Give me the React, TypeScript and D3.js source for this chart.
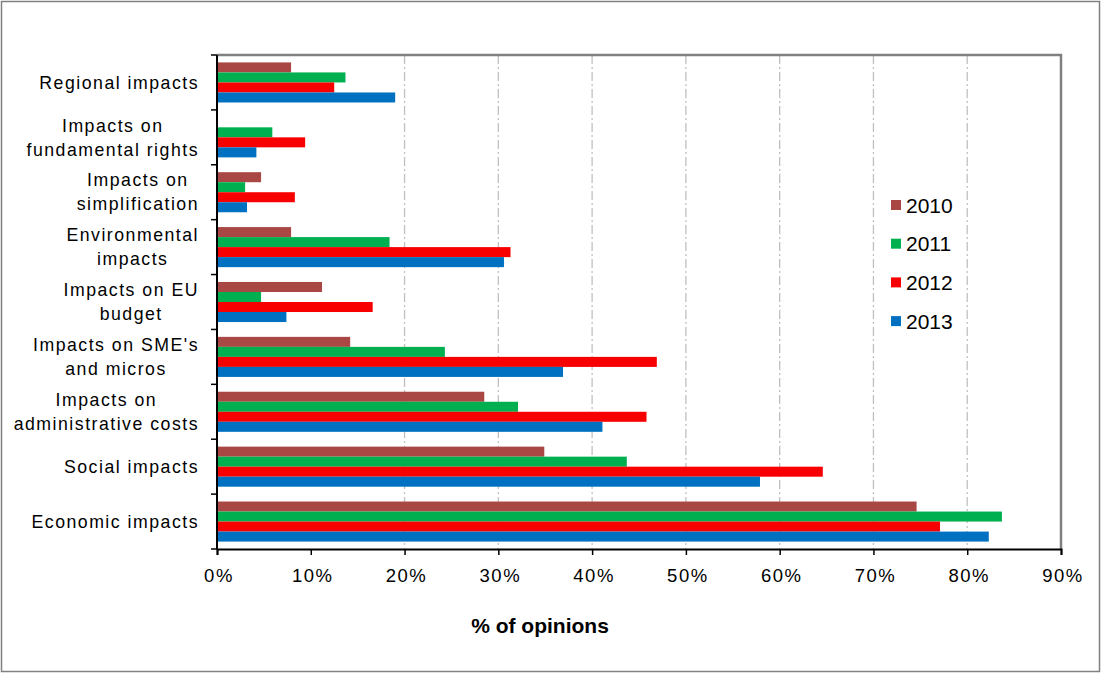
import React, { useEffect, useRef } from 'react'
import * as d3 from 'd3'

const categories = [
  'Regional impacts',
  'Impacts on\nfundamental rights',
  'Impacts on\nsimplification',
  'Environmental\nimpacts',
  'Impacts on EU\nbudget',
  "Impacts on SME's\nand micros",
  'Impacts on\nadministrative costs',
  'Social impacts',
  'Economic impacts',
]

const years = ['2010', '2011', '2012', '2013']

const values2010 = [7.9, 0, 4.7, 7.9, 11.2, 14.2, 28.5, 34.9, 74.6]
const values2011 = [13.7, 5.9, 3.0, 18.4, 4.7, 24.3, 32.1, 43.7, 83.7]
const values2012 = [12.5, 9.4, 8.3, 31.3, 16.6, 46.9, 45.8, 64.6, 77.1]
const values2013 = [19.0, 4.2, 3.2, 30.6, 7.4, 36.9, 41.1, 57.9, 82.3]

const xTicks = [0, 10, 20, 30, 40, 50, 60, 70, 80, 90]
const gridTicks = [20, 30, 40, 50, 60, 70, 80]

const colors = ['#A94744', '#00B050', '#F80000', '#0070C0']

const W = 1101
const H = 673

const App: React.FC = () => {
  const ref = useRef<SVGSVGElement>(null)

  useEffect(() => {
    renderChart()
  }, [])

  const renderChart = () => {
    const svg = d3.select(ref.current)
    svg.selectAll('*').remove()

    const left = 217
    const right = 1061
    const top = 55
    const bottom = 549
    const font = 'Liberation Sans, Arial, sans-serif'

    const series = [values2010, values2011, values2012, values2013]

    // outer frame
    svg
      .append('rect')
      .attr('x', 1.5)
      .attr('y', 1.5)
      .attr('width', W - 3)
      .attr('height', H - 3)
      .attr('fill', '#fff')
      .attr('stroke', '#808080')
      .attr('stroke-width', 1.5)

    const xScale = d3.scaleLinear().domain([0, 90]).range([left, right])
    const yScale = d3
      .scaleBand<number>()
      .domain(d3.range(categories.length))
      .range([top, bottom])
      .paddingInner(0.27)
      .paddingOuter(0.135)
    const inner = d3
      .scaleBand<number>()
      .domain(d3.range(years.length))
      .range([0, yScale.bandwidth()])

    // gridlines
    svg
      .append('g')
      .selectAll('line')
      .data(gridTicks)
      .enter()
      .append('line')
      .attr('x1', (d) => xScale(d))
      .attr('x2', (d) => xScale(d))
      .attr('y1', top)
      .attr('y2', bottom)
      .attr('stroke', '#c0c0c0')
      .attr('stroke-width', 1.3)
      .attr('stroke-dasharray', '9,3,2,3')

    // top + right borders of plot
    svg
      .append('path')
      .attr('d', `M${left},${top}H${right}V${bottom}`)
      .attr('fill', 'none')
      .attr('stroke', '#808080')
      .attr('stroke-width', 2.5)

    // bars
    series.forEach((vals, si) => {
      svg
        .append('g')
        .selectAll('rect')
        .data(vals)
        .enter()
        .append('rect')
        .attr('x', xScale(0))
        .attr('y', (_d, i) => (yScale(i) as number) + (inner(si) as number))
        .attr('width', (d) => xScale(d) - xScale(0))
        .attr('height', inner.bandwidth())
        .attr('fill', colors[si])
    })

    // y axis line + ticks at band boundaries
    const step = (bottom - top) / categories.length
    svg
      .append('line')
      .attr('x1', left)
      .attr('x2', left)
      .attr('y1', top)
      .attr('y2', bottom)
      .attr('stroke', '#000')
      .attr('stroke-width', 2)
    svg
      .append('g')
      .selectAll('line')
      .data(d3.range(categories.length + 1))
      .enter()
      .append('line')
      .attr('x1', left - 6)
      .attr('x2', left)
      .attr('y1', (i) => top + i * step)
      .attr('y2', (i) => top + i * step)
      .attr('stroke', '#000')
      .attr('stroke-width', 1.5)

    // x axis
    const xAxis = d3
      .axisBottom(xScale)
      .tickValues(xTicks)
      .tickSize(6)
      .tickFormat((d: any) => `${d}%`)
    const gx = svg
      .append('g')
      .attr('transform', `translate(0, ${bottom})`)
      .call(xAxis)
    gx.select('.domain').attr('stroke', '#000').attr('stroke-width', 2)
    gx.selectAll('.tick line').attr('stroke', '#000').attr('stroke-width', 1.5)
    gx.selectAll('.tick text')
      .attr('fill', '#000')
      .attr('y', 33)
      .attr('dy', 0)
      .attr('dx', '0.08em')
      .style('font-family', font)
      .style('font-size', '18.5px')
      .style('letter-spacing', '1.5px')

    // category labels, lines centred inside a right-aligned block
    const labels = svg.append('g')
    categories.forEach((c, i) => {
      const lines = c.split('\n')
      const cy = (yScale(i) as number) + yScale.bandwidth() / 2
      const lh = 24
      const t = labels
        .append('text')
        .attr('text-anchor', 'middle')
        .style('font-family', font)
        .style('font-size', '17.7px')
        .style('letter-spacing', '1.5px')
        .attr('fill', '#000')
      const spans = lines.map((l, li) =>
        t
          .append('tspan')
          .attr('y', cy + (li - (lines.length - 1) / 2) * lh)
          .attr('dy', '0.35em')
          .text(l)
      )
      const maxW = d3.max(spans, (s) => (s.node() as SVGTSpanElement).getComputedTextLength()) || 0
      spans.forEach((s) => s.attr('x', 199 - maxW / 2))
    })

    // axis title
    svg
      .append('text')
      .attr('x', 540)
      .attr('y', 633)
      .attr('text-anchor', 'middle')
      .style('font-family', font)
      .style('font-size', '21px')
      .style('font-weight', 'bold')
      .text('% of opinions')

    // legend
    const legend = svg.append('g')
    years.forEach((yr, i) => {
      const cy = 205 + i * 38.7
      legend
        .append('rect')
        .attr('x', 891)
        .attr('y', cy - 5)
        .attr('width', 10)
        .attr('height', 10)
        .attr('fill', colors[i])
      legend
        .append('text')
        .attr('x', 906)
        .attr('y', cy)
        .attr('dy', '0.36em')
        .style('font-family', font)
        .style('font-size', '21px')
        .text(yr)
    })
  }

  return (
    <div style={{ position: 'absolute', left: 0, top: 0 }}>
      <svg ref={ref} width={W} height={H} />
    </div>
  )
}

export default App
